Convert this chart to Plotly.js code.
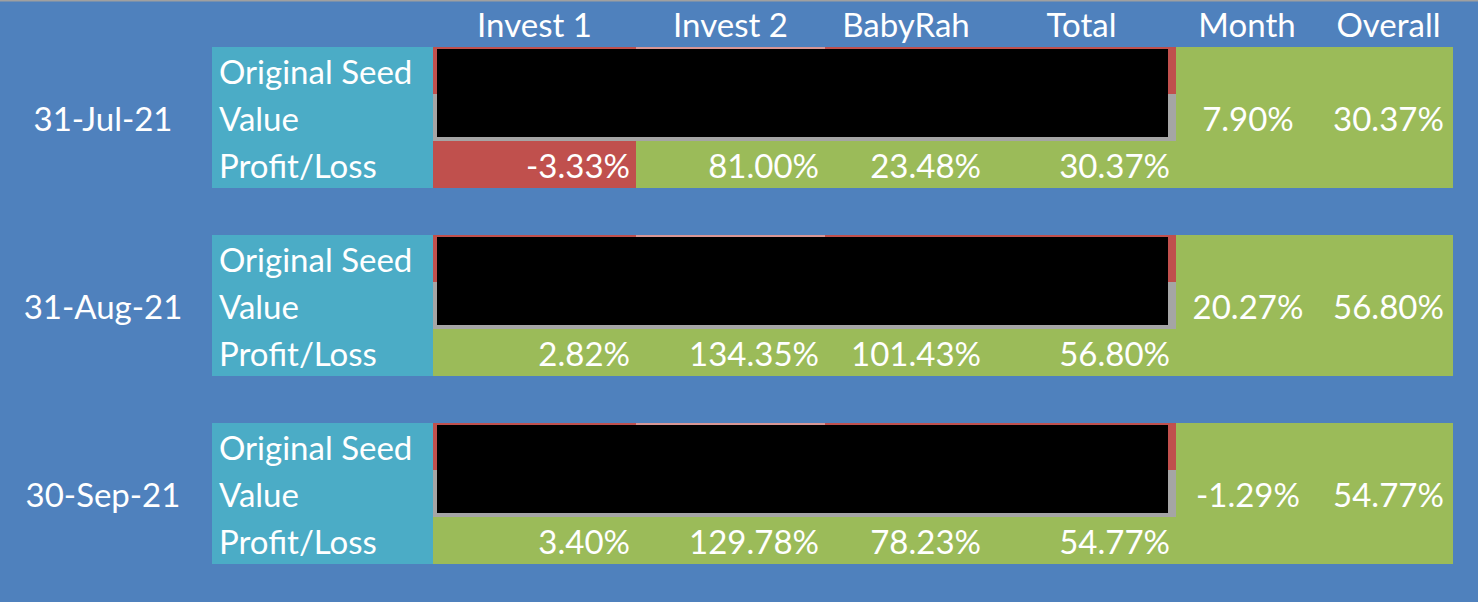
<!DOCTYPE html>
<html>
<head>
<meta charset="utf-8">
<script src="https://cdn.plot.ly/plotly-3.0.1.min.js"></script>
<style>
html,body{margin:0;padding:0;background:#4F81BD;overflow:hidden;}
#chart{width:1478px;height:602px;}
</style>
</head>
<body>
<div id="chart"></div>
<script>
// ---- data ----
const dates = ['31-Jul-21', '31-Aug-21', '30-Sep-21'];
const rowLabels = ['Original Seed', 'Value', 'Profit/Loss'];
const headers = ['Invest 1', 'Invest 2', 'BabyRah', 'Total', 'Month', 'Overall'];
const invest1 = [-3.33, 2.82, 3.40];
const invest2 = [81.00, 134.35, 129.78];
const babyRah = [23.48, 101.43, 78.23];
const total = [30.37, 56.80, 54.77];
const month = [7.90, 20.27, -1.29];
const overall = [30.37, 56.80, 54.77];

// ---- layout constants ----
const W = 1478, H = 602;
const colEdges = [0, 212, 433, 636, 825, 987, 1176, 1318, 1453];
const ROW = 47;          // row height
const HEADER = 47;       // header row height
const GROUP = 3 * ROW;   // rows per date block
const GAP = 47;          // blank row between blocks
const TEXT_OFF = 29;     // text centre below row top
const C = {
  bg: '#4F81BD', teal: '#4BACC6', green: '#9BBB59', red: '#C0504D',
  pink: '#D99694', grey: '#A5A5A5', black: '#000000', line: '#A0A0A0'
};
const FONT = 'Lato, "Open Sans", sans-serif';
const FS = 33;

const invCols = [invest1, invest2, babyRah, total];
const groupTop = g => HEADER + g * (GROUP + GAP);
const fmt = v => v.toFixed(2) + '%';

// ---- build cell layers ----
function layer() { return {x: [], y: [], base: [], width: [], color: []}; }
function addCell(L, x0, x1, y0, y1, color) {
  L.base.push(x0); L.x.push(x1 - x0);
  L.y.push((y0 + y1) / 2); L.width.push(y1 - y0);
  L.color.push(color);
}
const cells = layer();
const covers = layer();
addCell(cells, 0, W, 0, 1.5, C.line);

dates.forEach((d, g) => {
  const top = groupTop(g);
  addCell(cells, colEdges[1], colEdges[2], top, top + GROUP, C.teal);
  invCols.forEach((arr, i) => {
    const x0 = colEdges[2 + i], x1 = colEdges[3 + i];
    addCell(cells, x0, x1, top, top + ROW, i === 1 ? C.pink : C.red);
    addCell(cells, x0, x1, top + ROW, top + 2 * ROW, C.grey);
    addCell(cells, x0, x1, top + 2 * ROW, top + 3 * ROW, arr[g] < 0 ? C.red : C.green);
  });
  addCell(cells, colEdges[6], colEdges[8], top, top + GROUP, C.green);
  addCell(covers, colEdges[2] + 4, colEdges[6] - 8, top + 2, top + 90, C.black);
});

function barTrace(L) {
  return {
    type: 'bar', orientation: 'h', x: L.x, y: L.y, base: L.base, width: L.width,
    marker: {color: L.color, line: {width: 0}}, hoverinfo: 'skip'
  };
}

// ---- text layers ----
function tlayer(pos) { return {x: [], y: [], text: [], pos: pos}; }
const tCenter = tlayer('middle center');
const tLeft = tlayer('middle right');
const tRight = tlayer('middle left');
function addText(T, x, y, s) { T.x.push(x); T.y.push(y); T.text.push(s); }

headers.forEach((h, i) => {
  const x = (colEdges[2 + i] + colEdges[3 + i]) / 2 + (i === 5 ? 3 : 0);
  addText(tCenter, x, TEXT_OFF, h);
});
dates.forEach((d, g) => {
  const top = groupTop(g);
  addText(tCenter, 103, top + ROW + TEXT_OFF, d);
  rowLabels.forEach((r, k) => addText(tLeft, colEdges[1] + 7, top + k * ROW + TEXT_OFF, r));
  invCols.forEach((arr, i) => {
    addText(tRight, colEdges[3 + i] - 6, top + 2 * ROW + TEXT_OFF, fmt(arr[g]));
  });
  addText(tCenter, (colEdges[6] + colEdges[7]) / 2 + 1, top + ROW + TEXT_OFF, fmt(month[g]));
  addText(tCenter, (colEdges[7] + colEdges[8]) / 2 + 3, top + ROW + TEXT_OFF, fmt(overall[g]));
});

function textTrace(T) {
  return {
    type: 'scatter', mode: 'text', x: T.x, y: T.y, text: T.text, textposition: T.pos,
    textfont: {family: FONT, size: FS, color: '#FFFFFF'}, hoverinfo: 'skip',
    cliponaxis: false
  };
}

const data = [barTrace(cells), barTrace(covers), textTrace(tCenter), textTrace(tLeft), textTrace(tRight)];

const layout = {
  width: W, height: H,
  margin: {l: 0, r: 0, t: 0, b: 0, pad: 0},
  paper_bgcolor: C.bg, plot_bgcolor: C.bg,
  barmode: 'overlay', showlegend: false,
  xaxis: {range: [0, W], visible: false, fixedrange: true},
  yaxis: {range: [H, 0], visible: false, fixedrange: true},
  font: {family: FONT}
};

Plotly.newPlot('chart', data, layout, {staticPlot: true, displayModeBar: false});
</script>
</body>
</html>
